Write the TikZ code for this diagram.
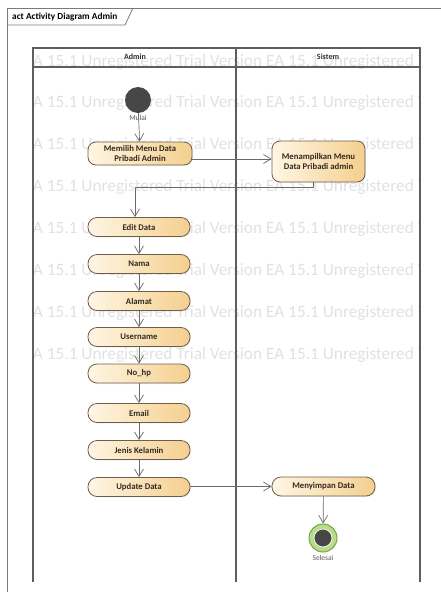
\documentclass[tikz,border=0pt]{standalone}
\usepackage{fontspec}
\setmainfont{Carlito}
\usetikzlibrary{arrows.meta,shadows}

\definecolor{framegray}{HTML}{7A7A7A}
\definecolor{poolgray}{HTML}{5E5E5E}
\definecolor{flowgray}{HTML}{6A6A6A}
\definecolor{actborder}{HTML}{6E5F4C}
\definecolor{actlight}{HTML}{FFF6E4}
\definecolor{actdark}{HTML}{F4CF8E}
\definecolor{acttext}{HTML}{33291F}
\definecolor{markgray}{HTML}{E1E1E1}
\definecolor{startfill}{HTML}{474747}
\definecolor{endring}{HTML}{B9DC8A}
\definecolor{endborder}{HTML}{76A544}

\tikzset{
  actbox/.style={draw=actborder, line width=0.8pt, rounded corners=8pt,
    left color=actlight, right color=actdark, text=acttext,
    font=\bfseries\fontsize{8.7}{10.2}\selectfont, align=center,
    inner sep=1.5pt,
    drop shadow={opacity=0.12, shadow xshift=1pt, shadow yshift=-1pt}},
  flow/.style={draw=flowgray, line width=0.7pt,
    -{Straight Barb[length=7.5pt,width=9pt,line width=0.7pt]}},
  smalllabel/.style={font=\fontsize{7.5}{9}\selectfont, text=black!65, inner sep=0pt},
  lanehead/.style={font=\bfseries\fontsize{8}{9}\selectfont, text=black!80, inner sep=0pt},
  watermark/.style={font=\fontsize{17.3}{18}\selectfont, text=markgray, inner sep=0pt, anchor=base west}
}

\begin{document}
\begin{tikzpicture}[x=1pt,y=-1pt]
\useasboundingbox (0,0) rectangle (441,592);

% diagram frame with its name tab
\draw[framegray, line width=1pt] (7,600) -- (7,8) -- (450,8);
\draw[framegray, line width=0.8pt] (7,25) -- (125,25) -- (133,8);
\node[font=\bfseries\fontsize{9.3}{11}\selectfont, anchor=west, inner sep=0pt] (title) at (12,17) {act Activity Diagram Admin};

% evaluation watermark rows inside the partition
\begin{scope}
  \clip (33,48) rectangle (420,582);
  \foreach \yb in {66,107,149,191,233,275,317,359}
    \node[watermark] at (24.5,\yb) {EA 15.1 Unregistered Trial Version EA 15.1 Unregistered Trial Version};
\end{scope}

% partitions
\draw[poolgray, line width=1.2pt] (33,582) -- (33,48) -- (420,48) -- (420,582);
\draw[poolgray, line width=1.2pt] (33,67) -- (420,67);
\draw[poolgray, line width=1.2pt] (236,48) -- (236,582);
\node[lanehead] (hadmin) at (135,57) {Admin};
\node[lanehead] (hsistem) at (328,57) {Sistem};

% initial node
\node[circle, fill=startfill, minimum size=26pt, inner sep=0pt] (start) at (138,100) {};
\node[smalllabel] (mulai) at (138,118) {Mulai};

% actions
\node[actbox, minimum width=104pt, minimum height=23pt] (memilih) at (140,153.5) {Memilih Menu Data\\Pribadi Admin};
\node[actbox, minimum width=93pt, minimum height=41pt] (menampilkan) at (318.5,161.5) {Menampilkan Menu\\Data Pribadi admin};
\node[actbox, minimum width=102pt, minimum height=19pt, rounded corners=9pt] (edit) at (139,227) {Edit Data};
\node[actbox, minimum width=102pt, minimum height=19pt, rounded corners=9pt] (nama) at (139,264) {Nama};
\node[actbox, minimum width=102pt, minimum height=19pt, rounded corners=9pt] (alamat) at (139,301) {Alamat};
\node[actbox, minimum width=102pt, minimum height=19pt, rounded corners=9pt] (username) at (139,337) {Username};
\node[actbox, minimum width=102pt, minimum height=19pt, rounded corners=9pt] (nohp) at (139,373.5) {No\_hp};
\node[actbox, minimum width=102pt, minimum height=19pt, rounded corners=9pt] (email) at (139,413) {Email};
\node[actbox, minimum width=102pt, minimum height=19pt, rounded corners=9pt] (jenis) at (139,450) {Jenis Kelamin};
\node[actbox, minimum width=102pt, minimum height=19pt, rounded corners=9pt] (update) at (139,487) {Update Data};
\node[actbox, minimum width=103pt, minimum height=19pt, rounded corners=9pt] (menyimpan) at (323.5,486.5) {Menyimpan Data};

% final node
\node[circle, draw=endborder, line width=1pt, fill=endring, minimum size=28pt, inner sep=0pt] (final) at (323,538) {};
\node[circle, draw=white!85!endring, line width=0.8pt, fill=startfill, minimum size=18pt, inner sep=0pt] (finalcore) at (final.center) {};
\node[smalllabel] (selesai) at (323,558) {Selesai};

% control flows
\coordinate (yrow) at (0,159);
\coordinate (bend) at (0,187);
\coordinate (entry) at (135,0);
\draw[flow] (start) -- (memilih);
\draw[flow] (memilih.east |- yrow) -- (menampilkan.west |- yrow);
\draw[flow] (menampilkan.south -| 313,0) -- (313,187) -- (entry |- bend) -- (entry |- edit.north);
\draw[flow] (edit) -- (nama);
\draw[flow] (nama) -- (alamat);
\draw[flow] (alamat) -- (username);
\draw[flow] (username) -- (nohp);
\draw[flow] (nohp) -- (email);
\draw[flow] (email) -- (jenis);
\draw[flow] (jenis) -- (update);
\draw[flow] (update.east |- menyimpan.west) -- (menyimpan.west);
\draw[flow] (menyimpan) -- (final);
\end{tikzpicture}
\end{document}
